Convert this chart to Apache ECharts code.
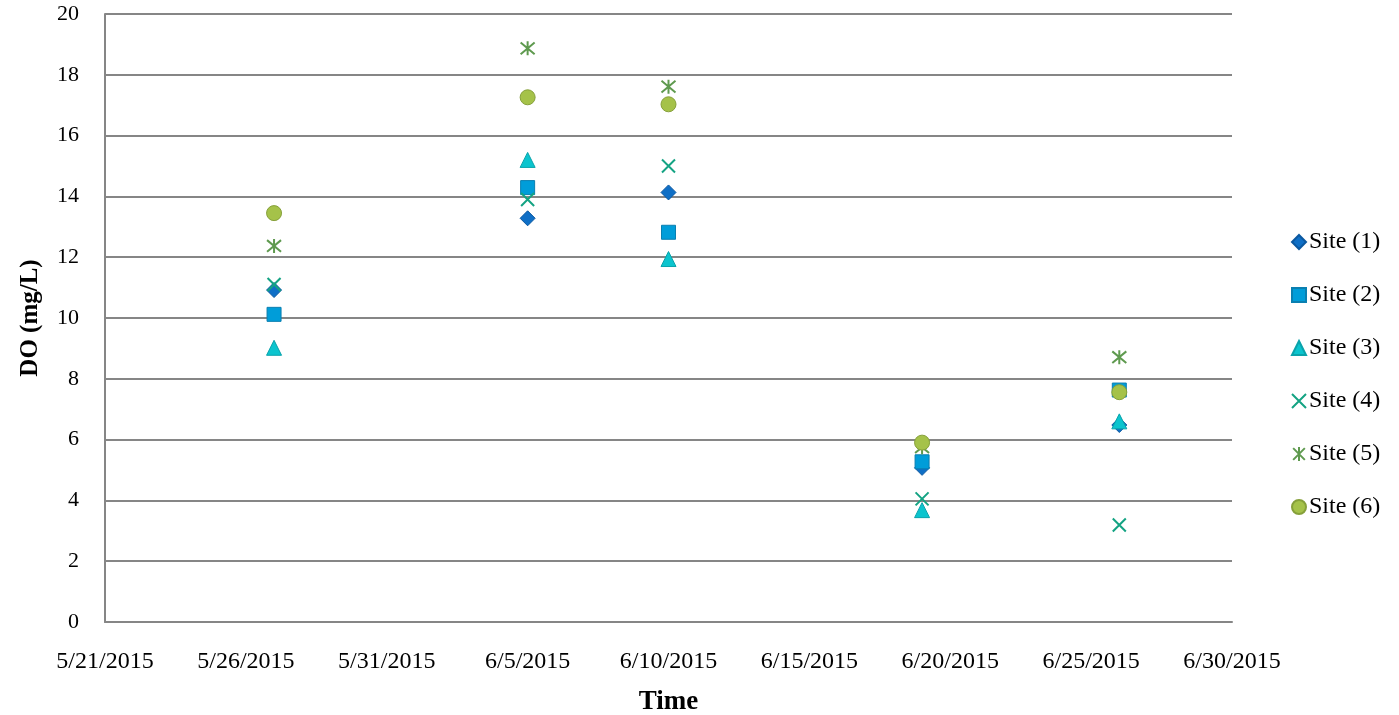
<!DOCTYPE html>
<html>
<head>
<meta charset="utf-8">
<script src="https://cdn.jsdelivr.net/npm/echarts@6/dist/echarts.min.js"></script>
<style>
html,body{margin:0;padding:0;background:#fff;}
#chart{width:1399px;height:715px;}
</style>
</head>
<body>
<div id="chart"></div>
<script>
const startDate = '2015-05-21';
const endDate = '2015-06-30';
const dates = ['2015-05-27', '2015-06-05', '2015-06-10', '2015-06-19', '2015-06-26'];
const seriesNames = ['Site (1)', 'Site (2)', 'Site (3)', 'Site (4)', 'Site (5)', 'Site (6)'];
const site1 = [10.92, 13.28, 14.13, 5.07, 6.48];
const site2 = [10.12, 14.29, 12.82, 5.27, 7.63];
const site3 = [9.02, 15.2, 11.94, 3.68, 6.6];
const site4 = [11.1, 13.9, 15.0, 4.05, 3.19];
const site5 = [12.37, 18.87, 17.61, 5.75, 8.71];
const site6 = [13.45, 17.26, 17.03, 5.9, 7.56];
const yTicks = [0, 2, 4, 6, 8, 10, 12, 14, 16, 18, 20];

const DAY = 86400000;
const base = Date.parse(startDate + 'T00:00:00Z');
const dayOf = s => (Date.parse(s + 'T00:00:00Z') - base) / DAY;
const fmtDate = d => { const t = new Date(base + d * DAY); return (t.getUTCMonth() + 1) + '/' + t.getUTCDate() + '/' + t.getUTCFullYear(); };

const values = [site1, site2, site3, site4, site5, site6];
const FONT = '"Liberation Serif", "DejaVu Serif", serif';
const styles = [
  {symbol: 'diamond', size: 15, item: {color: '#0F6FC6', borderColor: '#0b58a0', borderWidth: 1, opacity: 1}},
  {symbol: 'rect', size: 14, item: {color: '#009DD9', borderColor: '#0a7fb0', borderWidth: 1, opacity: 1}},
  {symbol: 'triangle', size: 15, item: {color: '#0BC4CE', borderColor: '#0aa3ab', borderWidth: 1, opacity: 1}},
  {symbol: 'path://M0 0 L10 10 M10 0 L0 10', size: 13, item: {color: 'rgba(0,0,0,0)', borderColor: '#14a383', borderWidth: 2, opacity: 1}},
  {symbol: 'path://M0 0 L10 10 M10 0 L0 10 M5 -1 L5 11', size: 14, item: {color: 'rgba(0,0,0,0)', borderColor: '#5f9a4f', borderWidth: 2, opacity: 1}},
  {symbol: 'circle', size: 15, item: {color: '#A5C249', borderColor: '#86a03a', borderWidth: 1, opacity: 1}}
];

const series = seriesNames.map((name, i) => ({
  name: name,
  type: 'scatter',
  symbol: styles[i].symbol,
  symbolSize: styles[i].size,
  itemStyle: styles[i].item,
  data: dates.map((d, j) => [dayOf(d), values[i][j]])
}));

const chart = echarts.init(document.getElementById('chart'));
chart.setOption({
  animation: false,
  backgroundColor: '#fff',
  grid: {left: 105, right: 167, top: 14, bottom: 93, containLabel: false, outerBoundsMode: 'none'},
  legend: {
    orient: 'vertical', left: 1286, top: 225, itemGap: 29, itemWidth: 14, itemHeight: 14,
    textStyle: {fontFamily: FONT, fontSize: 24, color: '#000', padding: [0, 0, 0, -2]},
    data: seriesNames
  },
  xAxis: {
    type: 'value', min: 0, max: dayOf(endDate), interval: 5,
    name: 'Time', nameLocation: 'middle', nameGap: 67,
    nameTextStyle: {fontFamily: FONT, fontSize: 27, fontWeight: 'bold', color: '#000'},
    axisLine: {show: true, lineStyle: {color: '#868686', width: 2}},
    axisTick: {show: false},
    splitLine: {show: false},
    axisLabel: {formatter: v => fmtDate(v), fontFamily: FONT, fontSize: 24, color: '#000', margin: 28}
  },
  yAxis: {
    type: 'value', min: yTicks[0], max: yTicks[yTicks.length - 1], interval: 2,
    name: 'DO (mg/L)', nameLocation: 'middle', nameGap: 62, nameRotate: 90,
    nameTextStyle: {fontFamily: FONT, fontSize: 25, fontWeight: 'bold', color: '#000'},
    axisLine: {show: true, lineStyle: {color: '#868686', width: 2}},
    axisTick: {show: false},
    splitLine: {show: true, lineStyle: {color: '#868686', width: 2}},
    axisLabel: {fontFamily: FONT, fontSize: 22, color: '#000', margin: 26}
  },
  series: series
});
</script>
</body>
</html>
